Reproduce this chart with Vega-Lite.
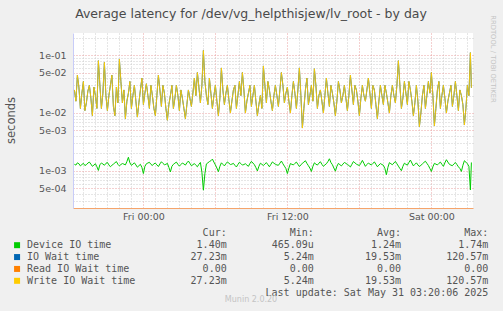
{
"$schema": "https://vega.github.io/schema/vega-lite/v6.json",
"width": 400, "height": 175,
"autosize": {"type": "none"},
"padding": {"left": 73, "top": 33, "right": 30, "bottom": 103},
"background": "#f0f0f0",
"config": {"view": {"stroke": null, "fill": "#ffffff"}},
"title": {"text": "Average latency for /dev/vg_helpthisjew/lv_root - by day", "font": "DejaVu Sans", "fontSize": 12.5, "fontWeight": "normal", "color": "#4a4a4a", "anchor": "middle", "frame": "group", "dx": -22, "offset": -5},
"layer": [
{
"data": {"values": [
{"t":"2025-05-29T18:15:00Z","w":0.025,"d":0.0013},
{"t":"2025-05-29T18:22:30Z","w":0.016,"d":0.00126},
{"t":"2025-05-29T18:30:00Z","w":0.045,"d":0.00138},
{"t":"2025-05-29T18:37:30Z","w":0.028,"d":0.00133},
{"t":"2025-05-29T18:45:00Z","w":0.012,"d":0.00122},
{"t":"2025-05-29T18:52:30Z","w":0.022,"d":0.00129},
{"t":"2025-05-29T19:00:00Z","w":0.035,"d":0.00135},
{"t":"2025-05-29T19:07:30Z","w":0.011,"d":0.00124},
{"t":"2025-05-29T19:15:00Z","w":0.015,"d":0.00128},
{"t":"2025-05-29T19:22:30Z","w":0.024,"d":0.00137},
{"t":"2025-05-29T19:30:00Z","w":0.03,"d":0.00142},
{"t":"2025-05-29T19:37:30Z","w":0.018,"d":0.00131},
{"t":"2025-05-29T19:45:00Z","w":0.009,"d":0.0012},
{"t":"2025-05-29T19:52:30Z","w":0.028,"d":0.00126},
{"t":"2025-05-29T20:00:00Z","w":0.02,"d":0.00133},
{"t":"2025-05-29T20:07:30Z","w":0.012,"d":0.00118},
{"t":"2025-05-29T20:15:00Z","w":0.08,"d":0.00102},
{"t":"2025-05-29T20:22:30Z","w":0.03,"d":0.00129},
{"t":"2025-05-29T20:30:00Z","w":0.012,"d":0.00136},
{"t":"2025-05-29T20:37:30Z","w":0.022,"d":0.00132},
{"t":"2025-05-29T20:45:00Z","w":0.075,"d":0.00125},
{"t":"2025-05-29T20:52:30Z","w":0.02,"d":0.00135},
{"t":"2025-05-29T21:00:00Z","w":0.011,"d":0.0014},
{"t":"2025-05-29T21:07:30Z","w":0.02,"d":0.00127},
{"t":"2025-05-29T21:15:00Z","w":0.03,"d":0.00118},
{"t":"2025-05-29T21:22:30Z","w":0.045,"d":0.00125},
{"t":"2025-05-29T21:30:00Z","w":0.013,"d":0.00131},
{"t":"2025-05-29T21:37:30Z","w":0.009,"d":0.00138},
{"t":"2025-05-29T21:45:00Z","w":0.028,"d":0.00145},
{"t":"2025-05-29T21:52:30Z","w":0.015,"d":0.0013},
{"t":"2025-05-29T22:00:00Z","w":0.085,"d":0.00122},
{"t":"2025-05-29T22:07:30Z","w":0.035,"d":0.00129},
{"t":"2025-05-29T22:15:00Z","w":0.015,"d":0.00134},
{"t":"2025-05-29T22:22:30Z","w":0.025,"d":0.00131},
{"t":"2025-05-29T22:30:00Z","w":0.008,"d":0.00127},
{"t":"2025-05-29T22:37:30Z","w":0.016,"d":0.00145},
{"t":"2025-05-29T22:45:00Z","w":0.022,"d":0.00172},
{"t":"2025-05-29T22:52:30Z","w":0.035,"d":0.00138},
{"t":"2025-05-29T23:00:00Z","w":0.012,"d":0.00125},
{"t":"2025-05-29T23:07:30Z","w":0.02,"d":0.00131},
{"t":"2025-05-29T23:15:00Z","w":0.03,"d":0.00138},
{"t":"2025-05-29T23:22:30Z","w":0.016,"d":0.00127},
{"t":"2025-05-29T23:30:00Z","w":0.0085,"d":0.00116},
{"t":"2025-05-29T23:37:30Z","w":0.015,"d":0.00123},
{"t":"2025-05-29T23:45:00Z","w":0.025,"d":0.0013},
{"t":"2025-05-29T23:52:30Z","w":0.04,"d":0.00115},
{"t":"2025-05-30T00:00:00Z","w":0.014,"d":0.0009},
{"t":"2025-05-30T00:07:30Z","w":0.022,"d":0.0012},
{"t":"2025-05-30T00:15:00Z","w":0.032,"d":0.00133},
{"t":"2025-05-30T00:22:30Z","w":0.02,"d":0.00137},
{"t":"2025-05-30T00:30:00Z","w":0.012,"d":0.00141},
{"t":"2025-05-30T00:37:30Z","w":0.03,"d":0.0013},
{"t":"2025-05-30T00:45:00Z","w":0.02,"d":0.00124},
{"t":"2025-05-30T00:52:30Z","w":0.012,"d":0.00133},
{"t":"2025-05-30T01:00:00Z","w":0.009,"d":0.00136},
{"t":"2025-05-30T01:07:30Z","w":0.02,"d":0.00127},
{"t":"2025-05-30T01:15:00Z","w":0.045,"d":0.00119},
{"t":"2025-05-30T01:22:30Z","w":0.025,"d":0.00132},
{"t":"2025-05-30T01:30:00Z","w":0.013,"d":0.00144},
{"t":"2025-05-30T01:37:30Z","w":0.03,"d":0.00135},
{"t":"2025-05-30T01:45:00Z","w":0.022,"d":0.00128},
{"t":"2025-05-30T01:52:30Z","w":0.012,"d":0.0013},
{"t":"2025-05-30T02:00:00Z","w":0.0075,"d":0.00135},
{"t":"2025-05-30T02:07:30Z","w":0.014,"d":0.00115},
{"t":"2025-05-30T02:15:00Z","w":0.02,"d":0.00096},
{"t":"2025-05-30T02:22:30Z","w":0.03,"d":0.0012},
{"t":"2025-05-30T02:30:00Z","w":0.012,"d":0.0013},
{"t":"2025-05-30T02:37:30Z","w":0.018,"d":0.00136},
{"t":"2025-05-30T02:45:00Z","w":0.03,"d":0.00142},
{"t":"2025-05-30T02:52:30Z","w":0.02,"d":0.0013},
{"t":"2025-05-30T03:00:00Z","w":0.011,"d":0.00121},
{"t":"2025-05-30T03:07:30Z","w":0.025,"d":0.00129},
{"t":"2025-05-30T03:15:00Z","w":0.018,"d":0.00137},
{"t":"2025-05-30T03:22:30Z","w":0.012,"d":0.00132},
{"t":"2025-05-30T03:30:00Z","w":0.008,"d":0.00126},
{"t":"2025-05-30T03:37:30Z","w":0.014,"d":0.00138},
{"t":"2025-05-30T03:45:00Z","w":0.025,"d":0.00148},
{"t":"2025-05-30T03:52:30Z","w":0.018,"d":0.00135},
{"t":"2025-05-30T04:00:00Z","w":0.013,"d":0.00123},
{"t":"2025-05-30T04:07:30Z","w":0.022,"d":0.00128},
{"t":"2025-05-30T04:15:00Z","w":0.04,"d":0.00134},
{"t":"2025-05-30T04:22:30Z","w":0.02,"d":0.00125},
{"t":"2025-05-30T04:30:00Z","w":0.05,"d":0.00118},
{"t":"2025-05-30T04:37:30Z","w":0.028,"d":0.0013},
{"t":"2025-05-30T04:45:00Z","w":0.015,"d":0.0014},
{"t":"2025-05-30T04:52:30Z","w":0.03,"d":0.00095},
{"t":"2025-05-30T05:00:00Z","w":0.12,"d":0.000465},
{"t":"2025-05-30T05:07:30Z","w":0.035,"d":0.0009},
{"t":"2025-05-30T05:15:00Z","w":0.02,"d":0.00132},
{"t":"2025-05-30T05:22:30Z","w":0.014,"d":0.00138},
{"t":"2025-05-30T05:30:00Z","w":0.04,"d":0.00145},
{"t":"2025-05-30T05:37:30Z","w":0.022,"d":0.0015},
{"t":"2025-05-30T05:45:00Z","w":0.012,"d":0.0016},
{"t":"2025-05-30T05:52:30Z","w":0.02,"d":0.00142},
{"t":"2025-05-30T06:00:00Z","w":0.03,"d":0.00127},
{"t":"2025-05-30T06:07:30Z","w":0.016,"d":0.00112},
{"t":"2025-05-30T06:15:00Z","w":0.009,"d":0.00097},
{"t":"2025-05-30T06:22:30Z","w":0.018,"d":0.0012},
{"t":"2025-05-30T06:30:00Z","w":0.06,"d":0.00138},
{"t":"2025-05-30T06:37:30Z","w":0.025,"d":0.0013},
{"t":"2025-05-30T06:45:00Z","w":0.014,"d":0.00122},
{"t":"2025-05-30T06:52:30Z","w":0.022,"d":0.00133},
{"t":"2025-05-30T07:00:00Z","w":0.03,"d":0.00143},
{"t":"2025-05-30T07:07:30Z","w":0.017,"d":0.00136},
{"t":"2025-05-30T07:15:00Z","w":0.01,"d":0.00129},
{"t":"2025-05-30T07:22:30Z","w":0.016,"d":0.00131},
{"t":"2025-05-30T07:30:00Z","w":0.025,"d":0.00135},
{"t":"2025-05-30T07:37:30Z","w":0.03,"d":0.00125},
{"t":"2025-05-30T07:45:00Z","w":0.012,"d":0.00117},
{"t":"2025-05-30T07:52:30Z","w":0.02,"d":0.00129},
{"t":"2025-05-30T08:00:00Z","w":0.035,"d":0.00141},
{"t":"2025-05-30T08:07:30Z","w":0.02,"d":0.00134},
{"t":"2025-05-30T08:15:00Z","w":0.05,"d":0.00126},
{"t":"2025-05-30T08:22:30Z","w":0.025,"d":0.00129},
{"t":"2025-05-30T08:30:00Z","w":0.01,"d":0.00133},
{"t":"2025-05-30T08:37:30Z","w":0.016,"d":0.00126},
{"t":"2025-05-30T08:45:00Z","w":0.022,"d":0.0012},
{"t":"2025-05-30T08:52:30Z","w":0.03,"d":0.00134},
{"t":"2025-05-30T09:00:00Z","w":0.013,"d":0.00146},
{"t":"2025-05-30T09:07:30Z","w":0.02,"d":0.00137},
{"t":"2025-05-30T09:15:00Z","w":0.03,"d":0.00128},
{"t":"2025-05-30T09:22:30Z","w":0.016,"d":0.00114},
{"t":"2025-05-30T09:30:00Z","w":0.009,"d":0.001},
{"t":"2025-05-30T09:37:30Z","w":0.014,"d":0.0012},
{"t":"2025-05-30T09:45:00Z","w":0.02,"d":0.00136},
{"t":"2025-05-30T09:52:30Z","w":0.012,"d":0.0013},
{"t":"2025-05-30T10:00:00Z","w":0.065,"d":0.00124},
{"t":"2025-05-30T10:07:30Z","w":0.03,"d":0.00132},
{"t":"2025-05-30T10:15:00Z","w":0.015,"d":0.00139},
{"t":"2025-05-30T10:22:30Z","w":0.035,"d":0.00128},
{"t":"2025-05-30T10:30:00Z","w":0.025,"d":0.00118},
{"t":"2025-05-30T10:37:30Z","w":0.016,"d":0.0013},
{"t":"2025-05-30T10:45:00Z","w":0.011,"d":0.00143},
{"t":"2025-05-30T10:52:30Z","w":0.02,"d":0.00136},
{"t":"2025-05-30T11:00:00Z","w":0.03,"d":0.0013},
{"t":"2025-05-30T11:07:30Z","w":0.02,"d":0.00127},
{"t":"2025-05-30T11:15:00Z","w":0.013,"d":0.00125},
{"t":"2025-05-30T11:22:30Z","w":0.025,"d":0.00136},
{"t":"2025-05-30T11:30:00Z","w":0.05,"d":0.00148},
{"t":"2025-05-30T11:37:30Z","w":0.03,"d":0.00133},
{"t":"2025-05-30T11:45:00Z","w":0.015,"d":0.00121},
{"t":"2025-05-30T11:52:30Z","w":0.022,"d":0.0011},
{"t":"2025-05-30T12:00:00Z","w":0.028,"d":0.0009},
{"t":"2025-05-30T12:07:30Z","w":0.016,"d":0.00112},
{"t":"2025-05-30T12:15:00Z","w":0.01,"d":0.00134},
{"t":"2025-05-30T12:22:30Z","w":0.02,"d":0.0013},
{"t":"2025-05-30T12:30:00Z","w":0.035,"d":0.00127},
{"t":"2025-05-30T12:37:30Z","w":0.022,"d":0.00135},
{"t":"2025-05-30T12:45:00Z","w":0.012,"d":0.00142},
{"t":"2025-05-30T12:52:30Z","w":0.025,"d":0.0013},
{"t":"2025-05-30T13:00:00Z","w":0.06,"d":0.00119},
{"t":"2025-05-30T13:07:30Z","w":0.02,"d":0.00127},
{"t":"2025-05-30T13:15:00Z","w":0.0055,"d":0.00136},
{"t":"2025-05-30T13:22:30Z","w":0.012,"d":0.00142},
{"t":"2025-05-30T13:30:00Z","w":0.025,"d":0.0015},
{"t":"2025-05-30T13:37:30Z","w":0.04,"d":0.00135},
{"t":"2025-05-30T13:45:00Z","w":0.014,"d":0.00123},
{"t":"2025-05-30T13:52:30Z","w":0.02,"d":0.00112},
{"t":"2025-05-30T14:00:00Z","w":0.03,"d":0.00098},
{"t":"2025-05-30T14:07:30Z","w":0.016,"d":0.0012},
{"t":"2025-05-30T14:15:00Z","w":0.058,"d":0.00138},
{"t":"2025-05-30T14:22:30Z","w":0.03,"d":0.00131},
{"t":"2025-05-30T14:30:00Z","w":0.012,"d":0.00126},
{"t":"2025-05-30T14:37:30Z","w":0.02,"d":0.00136},
{"t":"2025-05-30T14:45:00Z","w":0.025,"d":0.00144},
{"t":"2025-05-30T14:52:30Z","w":0.016,"d":0.0013},
{"t":"2025-05-30T15:00:00Z","w":0.01,"d":0.0012},
{"t":"2025-05-30T15:07:30Z","w":0.02,"d":0.00127},
{"t":"2025-05-30T15:15:00Z","w":0.04,"d":0.00133},
{"t":"2025-05-30T15:22:30Z","w":0.022,"d":0.00145},
{"t":"2025-05-30T15:30:00Z","w":0.013,"d":0.00162},
{"t":"2025-05-30T15:37:30Z","w":0.03,"d":0.0014},
{"t":"2025-05-30T15:45:00Z","w":0.022,"d":0.00128},
{"t":"2025-05-30T15:52:30Z","w":0.015,"d":0.00112},
{"t":"2025-05-30T16:00:00Z","w":0.009,"d":0.00099},
{"t":"2025-05-30T16:07:30Z","w":0.016,"d":0.0012},
{"t":"2025-05-30T16:15:00Z","w":0.035,"d":0.00135},
{"t":"2025-05-30T16:22:30Z","w":0.025,"d":0.00128},
{"t":"2025-05-30T16:30:00Z","w":0.015,"d":0.00122},
{"t":"2025-05-30T16:37:30Z","w":0.02,"d":0.00131},
{"t":"2025-05-30T16:45:00Z","w":0.03,"d":0.0014},
{"t":"2025-05-30T16:52:30Z","w":0.018,"d":0.00135},
{"t":"2025-05-30T17:00:00Z","w":0.011,"d":0.00129},
{"t":"2025-05-30T17:07:30Z","w":0.02,"d":0.00124},
{"t":"2025-05-30T17:15:00Z","w":0.045,"d":0.00117},
{"t":"2025-05-30T17:22:30Z","w":0.025,"d":0.0013},
{"t":"2025-05-30T17:30:00Z","w":0.014,"d":0.00145},
{"t":"2025-05-30T17:37:30Z","w":0.03,"d":0.00138},
{"t":"2025-05-30T17:45:00Z","w":0.025,"d":0.00131},
{"t":"2025-05-30T17:52:30Z","w":0.016,"d":0.00127},
{"t":"2025-05-30T18:00:00Z","w":0.009,"d":0.00124},
{"t":"2025-05-30T18:07:30Z","w":0.018,"d":0.00136},
{"t":"2025-05-30T18:15:00Z","w":0.03,"d":0.00152},
{"t":"2025-05-30T18:22:30Z","w":0.02,"d":0.00135},
{"t":"2025-05-30T18:30:00Z","w":0.016,"d":0.0012},
{"t":"2025-05-30T18:37:30Z","w":0.025,"d":0.00129},
{"t":"2025-05-30T18:45:00Z","w":0.04,"d":0.00137},
{"t":"2025-05-30T18:52:30Z","w":0.022,"d":0.00131},
{"t":"2025-05-30T19:00:00Z","w":0.012,"d":0.00127},
{"t":"2025-05-30T19:07:30Z","w":0.03,"d":0.00135},
{"t":"2025-05-30T19:15:00Z","w":0.025,"d":0.00143},
{"t":"2025-05-30T19:22:30Z","w":0.014,"d":0.0013},
{"t":"2025-05-30T19:30:00Z","w":0.008,"d":0.00118},
{"t":"2025-05-30T19:37:30Z","w":0.016,"d":0.00126},
{"t":"2025-05-30T19:45:00Z","w":0.03,"d":0.00134},
{"t":"2025-05-30T19:52:30Z","w":0.02,"d":0.00129},
{"t":"2025-05-30T20:00:00Z","w":0.014,"d":0.00125},
{"t":"2025-05-30T20:07:30Z","w":0.03,"d":0.0011},
{"t":"2025-05-30T20:15:00Z","w":0.022,"d":0.00086},
{"t":"2025-05-30T20:22:30Z","w":0.015,"d":0.00115},
{"t":"2025-05-30T20:30:00Z","w":0.01,"d":0.00139},
{"t":"2025-05-30T20:37:30Z","w":0.02,"d":0.00133},
{"t":"2025-05-30T20:45:00Z","w":0.03,"d":0.00128},
{"t":"2025-05-30T20:52:30Z","w":0.02,"d":0.00137},
{"t":"2025-05-30T21:00:00Z","w":0.015,"d":0.00146},
{"t":"2025-05-30T21:07:30Z","w":0.03,"d":0.00133},
{"t":"2025-05-30T21:15:00Z","w":0.08,"d":0.00121},
{"t":"2025-05-30T21:22:30Z","w":0.03,"d":0.0011},
{"t":"2025-05-30T21:30:00Z","w":0.012,"d":0.00101},
{"t":"2025-05-30T21:37:30Z","w":0.018,"d":0.0012},
{"t":"2025-05-30T21:45:00Z","w":0.035,"d":0.00136},
{"t":"2025-05-30T21:52:30Z","w":0.022,"d":0.0013},
{"t":"2025-05-30T22:00:00Z","w":0.014,"d":0.00126},
{"t":"2025-05-30T22:07:30Z","w":0.035,"d":0.0014},
{"t":"2025-05-30T22:15:00Z","w":0.025,"d":0.00154},
{"t":"2025-05-30T22:22:30Z","w":0.016,"d":0.00137},
{"t":"2025-05-30T22:30:00Z","w":0.009,"d":0.00122},
{"t":"2025-05-30T22:37:30Z","w":0.015,"d":0.0013},
{"t":"2025-05-30T22:45:00Z","w":0.03,"d":0.00138},
{"t":"2025-05-30T22:52:30Z","w":0.016,"d":0.00127},
{"t":"2025-05-30T23:00:00Z","w":0.0058,"d":0.00119},
{"t":"2025-05-30T23:07:30Z","w":0.01,"d":0.00125},
{"t":"2025-05-30T23:15:00Z","w":0.02,"d":0.00132},
{"t":"2025-05-30T23:22:30Z","w":0.03,"d":0.0014},
{"t":"2025-05-30T23:30:00Z","w":0.012,"d":0.00147},
{"t":"2025-05-30T23:37:30Z","w":0.02,"d":0.00135},
{"t":"2025-05-30T23:45:00Z","w":0.035,"d":0.00124},
{"t":"2025-05-30T23:52:30Z","w":0.022,"d":0.0011},
{"t":"2025-05-31T00:00:00Z","w":0.05,"d":0.00098},
{"t":"2025-05-31T00:07:30Z","w":0.02,"d":0.00118},
{"t":"2025-05-31T00:15:00Z","w":0.006,"d":0.00135},
{"t":"2025-05-31T00:22:30Z","w":0.012,"d":0.00131},
{"t":"2025-05-31T00:30:00Z","w":0.025,"d":0.00127},
{"t":"2025-05-31T00:37:30Z","w":0.035,"d":0.00135},
{"t":"2025-05-31T00:45:00Z","w":0.012,"d":0.00142},
{"t":"2025-05-31T00:52:30Z","w":0.02,"d":0.0013},
{"t":"2025-05-31T01:00:00Z","w":0.03,"d":0.0012},
{"t":"2025-05-31T01:07:30Z","w":0.018,"d":0.00138},
{"t":"2025-05-31T01:15:00Z","w":0.01,"d":0.00156},
{"t":"2025-05-31T01:22:30Z","w":0.016,"d":0.00142},
{"t":"2025-05-31T01:30:00Z","w":0.022,"d":0.0013},
{"t":"2025-05-31T01:37:30Z","w":0.03,"d":0.00126},
{"t":"2025-05-31T01:45:00Z","w":0.013,"d":0.00123},
{"t":"2025-05-31T01:52:30Z","w":0.02,"d":0.00132},
{"t":"2025-05-31T02:00:00Z","w":0.035,"d":0.0014},
{"t":"2025-05-31T02:07:30Z","w":0.02,"d":0.00129},
{"t":"2025-05-31T02:15:00Z","w":0.011,"d":0.00118},
{"t":"2025-05-31T02:22:30Z","w":0.025,"d":0.0011},
{"t":"2025-05-31T02:30:00Z","w":0.02,"d":0.00098},
{"t":"2025-05-31T02:37:30Z","w":0.014,"d":0.00125},
{"t":"2025-05-31T02:45:00Z","w":0.0062,"d":0.0015},
{"t":"2025-05-31T02:52:30Z","w":0.012,"d":0.00142},
{"t":"2025-05-31T03:00:00Z","w":0.03,"d":0.00133},
{"t":"2025-05-31T03:07:30Z","w":0.02,"d":0.0012},
{"t":"2025-05-31T03:15:00Z","w":0.11,"d":0.00047},
{"t":"2025-05-31T03:20:00Z","w":0.02723,"d":0.0014}
]},
"encoding": {
"x": {"field": "t", "type": "temporal",
"scale": {"type": "utc", "domain": [{"year": 2025, "month": 5, "date": 29, "hours": 18, "minutes": 8, "utc": true}, {"year": 2025, "month": 5, "date": 31, "hours": 3, "minutes": 28, "utc": true}]},
"axis": {"title": null, "tickCount": 34,
"labelExpr": "utchours(datum.value) % 12 == 0 ? utcFormat(datum.value, '%a %H:%M') : ''",
"labelOverlap": false, "labelFlush": false,
"grid": true,
"gridColor": {"condition": {"test": "utchours(datum.value) % 6 == 0", "value": "#e8a0a0"}, "value": "#cccccc"},
"gridDash": [1, 2], "ticks": false,
"domainColor": "#f5a46b", "domainWidth": 1,
"labelFont": "DejaVu Sans", "labelFontSize": 9.5, "labelColor": "#555555", "labelPadding": 3}}
},
"layer": [
{"mark": {"type": "line", "color": "#00cc00", "strokeWidth": 1},
"encoding": {"y": {"field": "d", "type": "quantitative",
"scale": {"type": "log", "domain": [0.000229, 0.2405], "nice": false},
"axis": {"title": "seconds",
"values": [0.0003,0.0004,0.0005,0.0006,0.0007,0.0008,0.0009,0.001,0.002,0.003,0.004,0.005,0.006,0.007,0.008,0.009,0.01,0.02,0.03,0.04,0.05,0.06,0.07,0.08,0.09,0.1,0.2],
"labelExpr": "(round(datum.value / pow(10, floor(log(datum.value) / LN10 + 0.000001))) == 1 || round(datum.value / pow(10, floor(log(datum.value) / LN10 + 0.000001))) == 5) ? replace(format(datum.value, '.0e'), 'e-', 'e-0') : ''",
"labelOverlap": false, "labelFlush": false,
"grid": true,
"gridColor": {"condition": {"test": "round(datum.value / pow(10, floor(log(datum.value) / LN10 + 0.000001))) == 1 || round(datum.value / pow(10, floor(log(datum.value) / LN10 + 0.000001))) == 5", "value": "#e8a0a0"}, "value": "#cccccc"},
"gridDash": [1, 2], "ticks": false,
"domainColor": "#c8ccf8",
"labelFont": "DejaVu Sans", "labelFontSize": 9.5, "labelColor": "#555555", "labelPadding": 7,
"titleFont": "DejaVu Sans", "titleFontSize": 11.5, "titleFontWeight": "normal", "titleColor": "#555555",
"titleX": -62, "titleY": 87, "titleAngle": -90, "titleBaseline": "middle", "titleAlign": "center"}}}},
{"mark": {"type": "line", "color": "#0066b3", "strokeWidth": 1},
"encoding": {"y": {"field": "w", "type": "quantitative", "scale": {"type": "log", "domain": [0.000229, 0.2405], "nice": false}}}},
{"mark": {"type": "line", "color": "#ffcc00", "strokeWidth": 1, "opacity": 0.9},
"encoding": {"y": {"field": "w", "type": "quantitative", "scale": {"type": "log", "domain": [0.000229, 0.2405], "nice": false}}}}
]
},
{
"layer": [
{"data": {"values": [{"name": "Device IO time", "row": 1}, {"name": "IO Wait time", "row": 2}, {"name": "Read IO Wait time", "row": 3}, {"name": "Write IO Wait time", "row": 4}]},
"layer": [
{"mark": {"type": "square", "size": 36, "filled": true, "opacity": 1},
"encoding": {
"x": {"datum": -0.404, "type": "quantitative", "scale": {"type": "linear", "domain": [2, 5], "range": [153.7, 415.3], "zero": false, "nice": false}, "axis": null},
"y": {"field": "row", "type": "quantitative", "scale": {"type": "linear", "domain": [0, 5], "range": [200.3, 259.7], "zero": false, "nice": false}, "axis": null},
"color": {"field": "name", "type": "nominal", "scale": {"domain": ["Device IO time", "IO Wait time", "Read IO Wait time", "Write IO Wait time"], "range": ["#00cc00", "#0066b3", "#ff8000", "#ffcc00"]}, "legend": null}}},
{"mark": {"type": "text", "align": "left", "baseline": "middle", "font": "DejaVu Sans Mono", "fontSize": 10, "color": "#555555"},
"encoding": {
"x": {"datum": -0.29, "type": "quantitative"},
"y": {"field": "row", "type": "quantitative"},
"text": {"field": "name"}}}
]},
{"data": {"values": [
{"row": 0, "col": 2, "txt": "Cur:\u00a0\u00a0"}, {"row": 0, "col": 3, "txt": "Min:\u00a0\u00a0"}, {"row": 0, "col": 4, "txt": "Avg:\u00a0\u00a0"}, {"row": 0, "col": 5, "txt": "Max:\u00a0\u00a0"},
{"row": 1, "col": 2, "txt": "1.40m"}, {"row": 1, "col": 3, "txt": "465.09u"}, {"row": 1, "col": 4, "txt": "1.24m"}, {"row": 1, "col": 5, "txt": "1.74m"},
{"row": 2, "col": 2, "txt": "27.23m"}, {"row": 2, "col": 3, "txt": "5.24m"}, {"row": 2, "col": 4, "txt": "19.53m"}, {"row": 2, "col": 5, "txt": "120.57m"},
{"row": 3, "col": 2, "txt": "0.00\u00a0"}, {"row": 3, "col": 3, "txt": "0.00\u00a0"}, {"row": 3, "col": 4, "txt": "0.00\u00a0"}, {"row": 3, "col": 5, "txt": "0.00\u00a0"},
{"row": 4, "col": 2, "txt": "27.23m"}, {"row": 4, "col": 3, "txt": "5.24m"}, {"row": 4, "col": 4, "txt": "19.53m"}, {"row": 4, "col": 5, "txt": "120.57m"},
{"row": 5, "col": 5, "txt": "Last update: Sat May 31 03:20:06 2025"}
]},
"mark": {"type": "text", "align": "right", "baseline": "middle", "font": "DejaVu Sans Mono", "fontSize": 10, "color": "#555555"},
"encoding": {
"x": {"field": "col", "type": "quantitative"},
"y": {"field": "row", "type": "quantitative"},
"text": {"field": "txt"}}},
{"data": {"values": [{"txt": "Munin 2.0.20"}]},
"mark": {"type": "text", "align": "center", "baseline": "middle", "font": "DejaVu Sans", "fontSize": 8, "color": "#c4c4c4"},
"encoding": {
"x": {"datum": 2.279, "type": "quantitative"},
"y": {"datum": 5.615, "type": "quantitative"},
"text": {"field": "txt"}}},
{"data": {"values": [{"txt": "RRDTOOL / TOBI OETIKER"}]},
"mark": {"type": "text", "align": "center", "baseline": "middle", "angle": 90, "font": "DejaVu Sans", "fontSize": 6.8, "color": "#c4c4c4"},
"encoding": {
"x": {"datum": 5.054, "type": "quantitative"},
"y": {"datum": -14.67, "type": "quantitative"},
"text": {"field": "txt"}}}
]
}
],
"resolve": {"scale": {"x": "independent", "y": "independent", "color": "independent"}}
}
